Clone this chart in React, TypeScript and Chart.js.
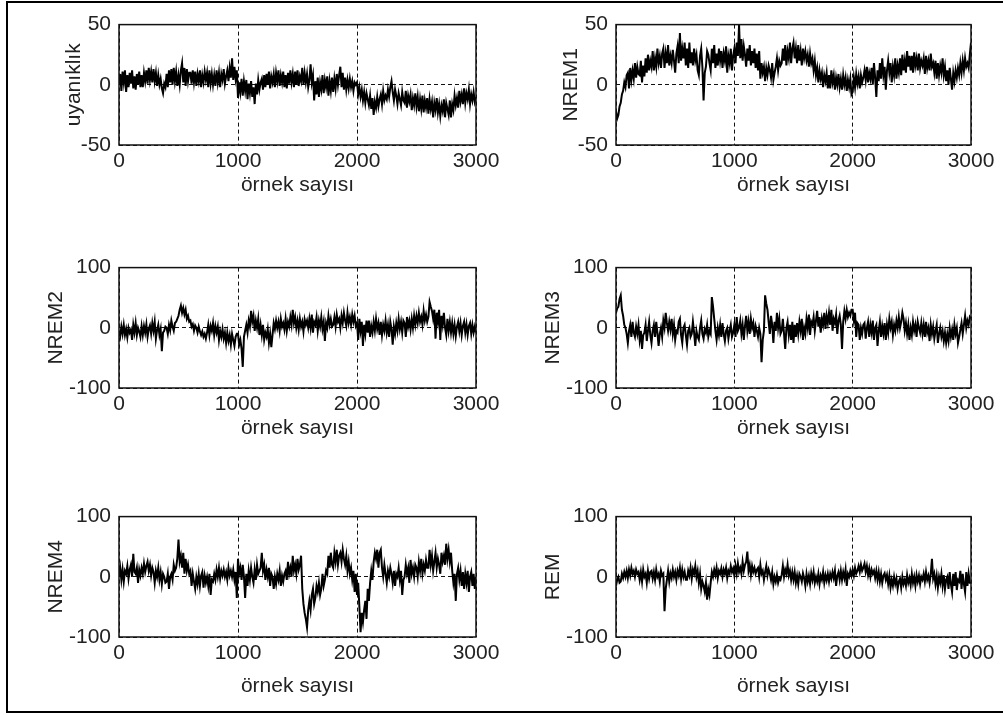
import React, { useEffect, useRef } from "react";
import { Chart, registerables } from "chart.js";

Chart.register(...registerables);

// ---------- data ----------
const SAMPLE_STEP = 10; // samples between consecutive values below
const X_TICKS = [0, 1000, 2000, 3000];
const Y_TICKS_50 = [-50, 0, 50];
const Y_TICKS_100 = [-100, 0, 100];

const uyaniklik = [
  0, 9, -5, 11, 2, 12, -6, 8, -2, 10,
  1, 12, -3, 7, -4, 9, 0, 11, -2, 8,
  -2, 10, 3, 12, 1, 14, 4, 11, 2, 13,
  3, 10, -1, 8, 0, 5, -3, -7, 1, -2,
  9, -2, 12, 2, 13, 0, 14, 3, 11, -1,
  8, 0, 12, 18, 2, 14, -1, 13, 3, 10,
  10, 1, 12, 2, 11, -1, 9, 3, 12, -2,
  8, 2, 11, 4, 10, -2, 12, 1, 9, 0,
  8, -1, 12, 2, 10, -2, 9, 4, 13, 1,
  7, 12, 3, 14, 6, 22, 4, 15, 5, 12,
  -11, 2, -6, 5, -9, 3, -5, 4, -12, 1,
  -7, 3, -10, -2, -16, 1, -8, 4, -4, 2,
  5, -4, 8, -2, 9, 0, 11, -3, 7, 2,
  9, -2, 10, 3, 12, -1, 8, 2, 11, -2,
  8, -3, 10, 1, 12, 2, 9, -2, 11, 0,
  12, -1, 7, 3, 14, 0, 10, 2, 9, -2,
  4, 17, 2, 8, -13, 3, -8, 6, -10, 2,
  -4, 8, -7, 4, -2, 7, -9, 3, -5, 6,
  -6, 5, -3, 9, 0, 8, 15, -2, 10, -4,
  6, -4, 4, -3, 5, -2, 3, -5, 2, 0,
  2, -8, -2, -10, -4, -13, -6, -15, -7, -12,
  -17, -9, -20, -11, -25, -14, -19, -10, -18, -12,
  -8, -16, -5, -13, -9, -12, -4, -10, -2, 3,
  -6, -13, -4, -9, -16, -7, -12, -17, -6, -13,
  -15, -5, -19, -9, -14, -8, -21, -11, -17, -7,
  -18, -10, -22, -12, -20, -9, -23, -13, -19, -11,
  -24, -12, -20, -14, -27, -15, -21, -11, -23, -16,
  -26, -17, -22, -12, -27, -15, -20, -25, -13, -27,
  -16, -21, -9, -17, -11, -19, -5, -14, -8, -16,
  -3, -15, -7, -12, -4, -16, -8, -13, -6, -14,
  -10,
];

const nrem1 = [
  -22, -28, -25, -18, -15, -8, -5, 2, -2, 8,
  10, -3, 14, 4, 12, 5, 18, 6, 15, 9,
  8, 20, 2, 16, 7, 22, 10, 25, 12, 20,
  15, 28, 12, 22, 15, 30, 18, 24, 14, 26,
  30, 14, 26, 18, 33, 16, 24, 18, 29, 20,
  10, 26, 32, 18, 43, 20, 30, 22, 35, 16,
  30, 14, 35, 18, 27, 16, 30, 20, 25, 12,
  8, 24, 30, 15, -13, 10, 15, 28, 25, 18,
  12, 30, 18, 33, 14, 26, 16, 30, 20, 28,
  14, 26, 20, 32, 10, 24, 18, 30, 12, 24,
  30, 18, 35, 24, 50, 22, 38, 20, 32, 25,
  15, 30, 20, 33, 16, 28, 18, 30, 14, 26,
  12, 28, 5, 18, 10, 15, 3, 14, 8, 16,
  12, 6, 18, 4, 10, 15, 22, 12, 20, 16,
  18, 30, 20, 33, 16, 28, 22, 35, 18, 30,
  35, 22, 30, 18, 33, 20, 28, 16, 30, 22,
  28, 20, 25, 15, 26, 18, 22, 12, 20, 8,
  14, 2, 12, 5, 10, -2, 8, 3, 10, -3,
  8, -3, 12, 2, 8, -4, 6, 0, 9, -2,
  5, -4, 8, 0, 6, -5, 4, -2, 5, -8,
  -6, 6, -2, 9, 1, 7, -3, 8, 2, 6,
  12, 4, 15, 2, 10, 5, 14, 0, 18, 6,
  -10, 12, 3, 18, 5, 22, 8, 15, -4, 12,
  20, 10, 18, 2, 15, 8, 22, 5, 16, 10,
  22, 8, 25, 12, 20, 10, 28, 15, 24, 12,
  24, 10, 27, 16, 22, 12, 26, 14, 20, 16,
  22, 9, 24, 14, 20, 12, 26, 15, 18, 10,
  20, 5, 18, 8, 16, 10, 22, 8, 15, 3,
  12, 0, 14, 5, -4, 10, 3, 12, 6, 14,
  8, 18, 10, 20, 12, 22, 15, 18, 14, 25,
  35,
];

const nrem2 = [
  -5, -14, 2, -10, 5, -12, -2, -16, 0, -8,
  -3, -20, 5, -8, 8, -12, 0, -6, -15, 3,
  -12, 3, -8, 6, -15, -2, 4, -10, 8, -5,
  10, -18, -4, 5, -12, -2, -39, -8, -5, 2,
  0, -10, 5, -4, 12, 2, -5, 8, 10, 15,
  20, 30, 37, 25, 33, 22, 30, 15, 20, 10,
  12, 2, 6, -5, 4, 0, -8, 2, -6, -12,
  -6, -15, -10, -18, -8, 5, -12, 3, -5, 8,
  -12, 3, -8, 2, -20, -5, -15, -2, -18, -8,
  -25, -8, -22, -12, -28, -10, -20, -30, -15, -10,
  -10, -28, -20, -35, -65, -15, -5, 5, -8, 12,
  2, 28, 10, 20, -5, 12, 0, 15, -12, 5,
  -12, 5, -20, -8, -15, -2, -25, -10, -32, -12,
  8, -2, 12, 0, 10, -5, 15, 2, 8, -3,
  15, -5, 10, 2, 18, 5, 30, 8, 18, 0,
  12, -3, 15, 2, 10, -6, 14, 5, 12, 0,
  15, 0, 22, -8, 10, 5, 18, -5, 12, 2,
  18, -2, 10, -22, 8, 0, 20, 5, 15, 2,
  5, 18, 2, 22, 10, 15, 0, 20, 8, 25,
  12, 3, 25, 8, 18, 5, 22, 10, 20, 3,
  8, -20, 15, -5, 10, -30, 5, -10, 12, -8,
  12, -15, 3, -8, 10, -5, 15, -2, 8, -12,
  10, -12, 5, -5, 12, -8, 5, -15, 10, -2,
  -28, 2, -10, 8, -5, 15, -2, 10, -8, 12,
  8, -15, 18, 2, 12, -3, 15, 0, 20, 5,
  20, 8, 25, 10, 18, 5, 28, 12, 22, 10,
  18, 43, 35, 28, 15, 30, -18, 25, 10, 30,
  -20, 20, 5, 25, 0, -12, 15, -5, 10, -8,
  8, -10, 5, -14, 2, 10, -6, 8, -12, 3,
  10, -8, 6, -12, 3, 8, -10, 5, -8, 2,
  -8,
];

const nrem3 = [
  25, 32, 35, 48, 54, 30, 20, 5, 0, -10,
  -25, -5, 5, -15, 10, -8, -15, 2, -10, 5,
  -20, -5, -35, -12, -8, 5, -22, -5, 10, -12,
  -25, -5, 5, -15, 10, -8, -30, -10, 0, -15,
  12, 0, 25, 8, -5, 10, -3, 15, -10, 5,
  -20, -5, -8, 10, 15, -12, -25, 0, 5, -12,
  -28, -5, 0, -15, -10, 10, -8, -30, -5, -15,
  -20, 0, 12, -10, -18, -2, -8, 5, -15, -5,
  -10, 51, 35, 15, -5, -20, 0, -12, 5, -15,
  8, -10, -22, -5, 0, -18, -5, 5, -15, -8,
  5, -15, 18, -5, 0, 12, -10, 5, -20, 3,
  20, -5, 10, -10, 15, 0, 8, -15, 3, -5,
  -15, 0, -10, -57, -20, -5, 54, 40, 30, 10,
  -10, 20, 5, -25, 10, -5, 25, 0, 15, -10,
  -5, 15, -10, -35, 0, 10, -12, 5, -20, 10,
  -25, 5, -15, 8, -10, 10, -5, 15, -20, 0,
  -10, 15, 0, 22, -12, 10, 5, 18, -5, 12,
  28, 2, 18, -8, 15, 5, 25, -2, 20, 8,
  25, 5, 30, -5, 15, 8, 22, -10, 12, 20,
  5, -35, 10, 28, 15, 30, 18, 25, 20, 30,
  30, 12, 25, -15, 8, 5, -20, 0, -10, 5,
  8, -18, 0, 10, -15, 5, -8, 12, -20, 0,
  5, -30, -5, 10, -15, 3, -10, 8, -20, 5,
  -8, 15, 0, 10, -12, 5, -5, 12, 0, 18,
  0, 10, 25, 15, -5, 8, -10, 5, -20, 0,
  -12, 10, -5, 5, -15, 10, 0, -8, 8, -10,
  5, -15, 10, -8, 0, -22, 5, -10, 2, -18,
  -5, 5, -25, -10, 0, -15, -5, -22, -8, -25,
  -10, -22, 0, -15, -3, -20, 5, -10, 0, -25,
  -15, -3, 8, -10, 5, 20, 0, 12, 5, 18,
  15,
];

const nrem4 = [
  0, 15, -5, 12, -8, 10, 5, 18, -3, 12,
  20, 0, 38, 8, 5, 15, -10, 12, 2, 15,
  5, 22, 8, 18, 25, 10, 20, 2, 15, 8,
  -10, 10, 0, 15, -5, 8, -12, 5, 0, -10,
  -8, 5, -20, 0, 5, -5, 20, 10, 15, 30,
  62, 25, 35, 15, 40, 5, 30, 10, 20, 5,
  10, -15, 5, -8, -20, 0, -12, 5, -15, 2,
  8, -18, 2, -10, 0, -15, 5, -30, -5, -8,
  5, -5, 12, 0, 15, -3, 10, 2, 12, 0,
  8, -5, 15, 2, 10, 0, 12, -5, 8, -35,
  30, 5, 15, -5, 20, 0, -35, 5, -15, 10,
  -5, 15, 0, -10, 12, -5, 20, 5, 10, 15,
  40, 10, 20, -5, 12, 0, 15, -15, 5, 0,
  -20, 0, -12, 5, -5, 10, -15, 2, -8, 5,
  10, -5, 25, 5, 15, 0, 35, 10, 20, 5,
  30, 12, 20, 35, -20, -45, -60, -70, -84, -55,
  -40, -55, -30, -20, -45, -35, -15, -25, -10, -30,
  -20, 5, -15, -5, 10, 5, 35, 15, 40, 20,
  15, 40, 25, 45, 20, 35, 40, 25, 45, 30,
  20, 35, 10, 25, 5, 15, -5, 10, -25, 5,
  -30, -10, -50, -92, -60, -75, -55, -40, -70, -20,
  -40, -10, 10, -5, 25, 40, 30, 45, 15, 40,
  45, 15, 0, 20, 5, -10, 10, 0, 15, 5,
  -10, 10, -15, 5, 0, 15, -5, 10, -30, -5,
  0, 20, 5, 15, -10, 28, 5, 15, 0, 20,
  15, 0, 25, 10, 30, 5, 20, 10, 28, 15,
  15, 45, 20, 35, 10, 25, 40, 15, 30, 20,
  5, 40, 25, 35, 20, 55, 30, 45, 25, 40,
  10, -10, 5, -40, 5, 15, -5, 10, -15, 8,
  -20, 5, -10, 10, -25, 0, 8, -15, 5, -20,
  0,
];

const rem = [
  -15, -5, 0, -10, -8, 5, -2, 8, 0, 10,
  -2, 12, 2, 15, 5, 10, 0, 12, 5, 8,
  -5, 8, -8, 12, 0, 5, -10, 10, -3, 8,
  10, -3, 8, -5, 12, 0, 5, -8, 10, 2,
  5, -57, -20, -5, 10, -8, 6, -2, 12, 0,
  8, -5, 10, 2, 15, -3, 12, 0, 8, -5,
  -5, 10, 2, 15, -3, 12, 5, 18, 0, 10,
  -10, 5, -20, -8, -15, -25, -10, -38, -20, -30,
  -10, 8, 0, 12, 3, 15, -2, 10, 5, 14,
  0, 12, 5, 15, -2, 10, 5, 18, 8, 14,
  2, 18, 5, 22, 8, 15, 5, 25, 10, 20,
  25, 42, 10, 20, 3, 18, 8, 15, 5, 12,
  15, 0, 20, 5, 10, -5, 8, 18, 2, 12,
  5, -5, 8, -12, 0, -8, 3, -10, -2, -5,
  3, 18, 0, 12, 5, 20, 2, 10, -5, 8,
  -5, 8, -10, 2, -12, 5, 0, -8, 6, -2,
  -15, 5, -8, 2, -12, 6, -5, 8, -10, 0,
  -8, 5, -12, 2, -5, 8, -10, 3, -6, 5,
  -8, 5, -3, 8, -2, 10, -15, 2, 8, -5,
  10, -5, 8, -2, 12, -15, 5, 0, 10, 2,
  12, 2, 15, 5, 10, 18, 8, 20, 10, 15,
  22, 8, 18, 3, 14, 0, 12, 5, 10, -2,
  10, -5, 8, -8, 5, -10, 2, 6, -5, 3,
  -12, 2, -18, -5, -15, 0, -12, -3, -20, -8,
  -3, -18, 0, -12, -5, -15, 3, -10, -2, -14,
  5, -10, 0, -15, 3, -8, 2, -12, 0, -5,
  5, -8, 8, -5, 2, -10, 5, 30, -3, 5,
  -12, 2, -18, 0, -10, 5, -15, 3, -20, -5,
  0, -20, 8, -12, -25, 5, -15, 8, -22, -5,
  -8, 10, -20, 5, -12, -25, 8, -15, 5, -10,
  -10,
];

const X_TITLE = "örnek sayısı";
const PANEL_TITLES = ["uyanıklık", "NREM1", "NREM2", "NREM3", "NREM4", "REM"];
const PANEL_VALUES = [uyaniklik, nrem1, nrem2, nrem3, nrem4, rem];
const PANEL_YTICKS = [Y_TICKS_50, Y_TICKS_50, Y_TICKS_100, Y_TICKS_100, Y_TICKS_100, Y_TICKS_100];

// ---------- layout ----------
const COL_LEFT = [119, 616];
const COL_WIDTH = [357, 355];
const ROW_TOP = [24, 267, 516];
const ROW_HEIGHT = 121;
const YW = 100; // y-axis box width
const PT = 20; // space above plot
const PR = 40; // space right of plot
const XH = 70; // x-axis box height
const FONT_FAMILY = "'Liberation Sans', Arial, Helvetica, sans-serif";
const FONT_SIZE = 21;
const TEXT_COLOR = "#222";
const Y_TITLE_PAD = [43, 25, 25];
const X_TITLE_PAD = [17, 17, 8];

const boxPlugin = {
  id: "matlabBox",
  afterDatasetsDraw(chart: any) {
    const { ctx, chartArea: a } = chart;
    ctx.save();
    ctx.strokeStyle = "#111";
    ctx.lineWidth = 1.5;
    ctx.strokeRect(a.left, a.top, a.right - a.left, a.bottom - a.top);
    ctx.restore();
  },
};

function Panel({ index }: { index: number }) {
  const ref = useRef<HTMLCanvasElement | null>(null);
  const col = index % 2;
  const row = Math.floor(index / 2);
  const plotLeft = COL_LEFT[col];
  const plotW = COL_WIDTH[col];
  const plotTop = ROW_TOP[row];
  const w = plotW + YW + PR;
  const h = ROW_HEIGHT + PT + XH;

  useEffect(() => {
    const values = PANEL_VALUES[index];
    const yTicks = PANEL_YTICKS[index];
    const font = { family: FONT_FAMILY, size: FONT_SIZE };
    const chart = new Chart(ref.current as HTMLCanvasElement, {
      type: "line",
      data: {
        datasets: [
          {
            data: values.map((v, i) => ({ x: i * SAMPLE_STEP, y: v })),
            borderColor: "#000",
            borderWidth: 2,
            pointRadius: 0,
            tension: 0,
            fill: false,
            borderJoinStyle: "miter",
          },
        ],
      },
      options: {
        responsive: false,
        maintainAspectRatio: false,
        animation: false,
        events: [],
        layout: { padding: { top: PT, right: PR, left: 0, bottom: 0 } },
        plugins: { legend: { display: false }, tooltip: { enabled: false } },
        scales: {
          x: {
            type: "linear",
            min: X_TICKS[0],
            max: X_TICKS[X_TICKS.length - 1],
            afterBuildTicks: (s: any) => {
              s.ticks = X_TICKS.map((v) => ({ value: v }));
            },
            afterFit: (s: any) => {
              s.height = XH;
            },
            grid: { color: "#111", lineWidth: 1, drawTicks: false },
            border: { display: false, dash: [4, 3] },
            ticks: {
              color: TEXT_COLOR,
              font,
              padding: 4,
              maxRotation: 0,
              autoSkip: false,
              callback: (v: any) => String(v),
            },
            title: {
              display: true,
              text: X_TITLE,
              color: TEXT_COLOR,
              font,
              padding: { top: 0, bottom: X_TITLE_PAD[row] },
            },
          },
          y: {
            type: "linear",
            min: yTicks[0],
            max: yTicks[yTicks.length - 1],
            afterBuildTicks: (s: any) => {
              s.ticks = yTicks.map((v) => ({ value: v }));
            },
            afterFit: (s: any) => {
              s.width = YW;
            },
            grid: { color: "#111", lineWidth: 1, drawTicks: false },
            border: { display: false, dash: [4, 3] },
            ticks: {
              color: TEXT_COLOR,
              font,
              padding: 8,
              autoSkip: false,
              callback: (v: any) => String(v),
            },
            title: {
              display: true,
              text: PANEL_TITLES[index],
              color: TEXT_COLOR,
              font,
              padding: { top: Y_TITLE_PAD[row], bottom: 0 },
            },
          },
        },
      } as any,
      plugins: [boxPlugin],
    });
    return () => chart.destroy();
  }, [index]);

  return (
    <canvas
      ref={ref}
      width={w}
      height={h}
      style={{
        position: "absolute",
        left: plotLeft - YW,
        top: plotTop - PT,
        width: w,
        height: h,
      }}
    />
  );
}

export default function App() {
  return (
    <div
      style={{
        position: "fixed",
        left: 0,
        top: 0,
        width: 1003,
        height: 715,
        background: "#fff",
        overflow: "hidden",
      }}
    >
      <div
        style={{
          position: "absolute",
          left: 6,
          top: 1,
          width: 1010,
          height: 712,
          boxSizing: "border-box",
          borderLeft: "2px solid #000",
          borderTop: "2px solid #000",
          borderBottom: "2px solid #000",
        }}
      />
      {PANEL_TITLES.map((_, i) => (
        <Panel key={i} index={i} />
      ))}
    </div>
  );
}
